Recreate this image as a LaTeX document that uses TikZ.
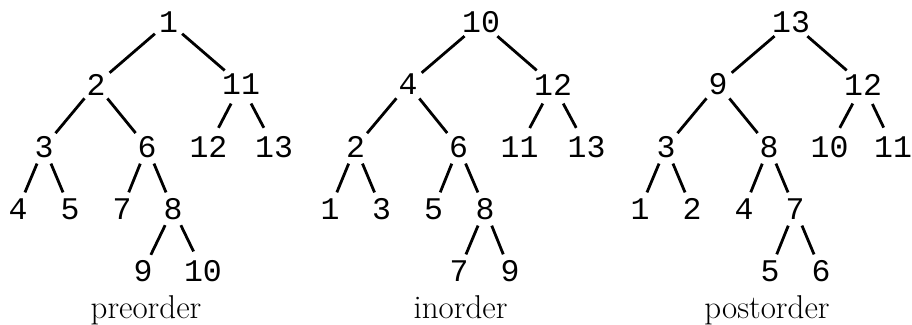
\documentclass[tikz,border=0pt]{standalone}
\usepackage{fontspec}
\newfontfamily\treefont{Liberation Mono}
\tikzset{
  tn/.style={circle, minimum size=36pt, inner sep=0pt, outer sep=0pt,
             font=\treefont\fontsize{31.5pt}{33pt}\selectfont},
  edge/.style={line width=2.8pt},
  lbl/.style={anchor=base, inner sep=0pt, font=\fontsize{33pt}{35pt}\selectfont}
}
\begin{document}
\begin{tikzpicture}[x=1pt,y=-1pt]
\useasboundingbox (0,0) rectangle (912,324);
% ---------- preorder ----------
\node[tn] (pA) at (168.5,22) {1};
\node[tn] (pB) at (96,84.5) {2};
\node[tn] (pC) at (241,84.5) {11};
\node[tn] (pD) at (44,147) {3};
\node[tn] (pE) at (147,147) {6};
\node[tn] (pF) at (208.5,147) {12};
\node[tn] (pG) at (274,147) {13};
\node[tn] (pH) at (18,209) {4};
\node[tn] (pI) at (70,209) {5};
\node[tn] (pJ) at (122,209) {7};
\node[tn] (pK) at (173,209) {8};
\node[tn] (pL) at (143,271) {9};
\node[tn] (pM) at (203,271) {10};
\draw[edge] (pA) -- (pB);
\draw[edge] (pA) -- (pC);
\draw[edge] (pB) -- (pD);
\draw[edge] (pB) -- (pE);
\draw[edge] (pC) -- (pF);
\draw[edge] (pC) -- (pG);
\draw[edge] (pD) -- (pH);
\draw[edge] (pD) -- (pI);
\draw[edge] (pE) -- (pJ);
\draw[edge] (pE) -- (pK);
\draw[edge] (pK) -- (pL);
\draw[edge] (pK) -- (pM);
\node[lbl] (pT) at (146,318) {preorder};
% ---------- inorder ----------
\node[tn] (iA) at (481,22) {10};
\node[tn] (iB) at (408,84.5) {4};
\node[tn] (iC) at (553,84.5) {12};
\node[tn] (iD) at (355.5,147) {2};
\node[tn] (iE) at (458.5,147) {6};
\node[tn] (iF) at (519.5,147) {11};
\node[tn] (iG) at (586.5,147) {13};
\node[tn] (iH) at (330,209) {1};
\node[tn] (iI) at (381.5,209) {3};
\node[tn] (iJ) at (433.5,209) {5};
\node[tn] (iK) at (485,209) {8};
\node[tn] (iL) at (459,271) {7};
\node[tn] (iM) at (510,271) {9};
\draw[edge] (iA) -- (iB);
\draw[edge] (iA) -- (iC);
\draw[edge] (iB) -- (iD);
\draw[edge] (iB) -- (iE);
\draw[edge] (iC) -- (iF);
\draw[edge] (iC) -- (iG);
\draw[edge] (iD) -- (iH);
\draw[edge] (iD) -- (iI);
\draw[edge] (iE) -- (iJ);
\draw[edge] (iE) -- (iK);
\draw[edge] (iK) -- (iL);
\draw[edge] (iK) -- (iM);
\node[lbl] (iT) at (460.5,318) {inorder};
% ---------- postorder ----------
\node[tn] (qA) at (791,22) {13};
\node[tn] (qB) at (718,84.5) {9};
\node[tn] (qC) at (863,84.5) {12};
\node[tn] (qD) at (666,147) {3};
\node[tn] (qE) at (769,147) {8};
\node[tn] (qF) at (829.5,147) {10};
\node[tn] (qG) at (893,147) {11};
\node[tn] (qH) at (640,209) {1};
\node[tn] (qI) at (692,209) {2};
\node[tn] (qJ) at (744,209) {4};
\node[tn] (qK) at (795,209) {7};
\node[tn] (qL) at (770,271) {5};
\node[tn] (qM) at (821,271) {6};
\draw[edge] (qA) -- (qB);
\draw[edge] (qA) -- (qC);
\draw[edge] (qB) -- (qD);
\draw[edge] (qB) -- (qE);
\draw[edge] (qC) -- (qF);
\draw[edge] (qC) -- (qG);
\draw[edge] (qD) -- (qH);
\draw[edge] (qD) -- (qI);
\draw[edge] (qE) -- (qJ);
\draw[edge] (qE) -- (qK);
\draw[edge] (qK) -- (qL);
\draw[edge] (qK) -- (qM);
\node[lbl] (qT) at (767,318) {postorder};
\end{tikzpicture}
\end{document}
